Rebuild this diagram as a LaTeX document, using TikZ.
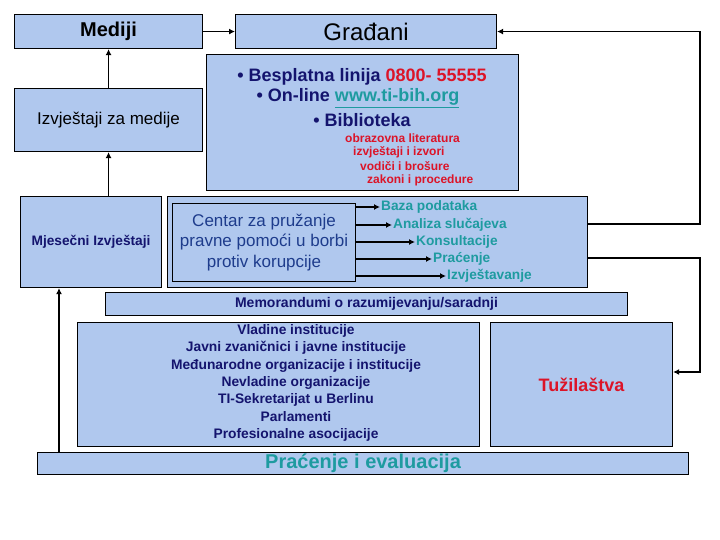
\documentclass[tikz,border=0pt]{standalone}
\usepackage{fontspec}
\setmainfont{Liberation Sans}
\usetikzlibrary{arrows.meta,calc}
\definecolor{boxblue}{RGB}{176,200,238}
\definecolor{navy}{RGB}{20,20,110}
\definecolor{tred}{RGB}{220,20,40}
\definecolor{teal2}{RGB}{30,155,160}
\definecolor{cblue}{RGB}{30,60,140}
\begin{document}
\begin{tikzpicture}[x=1pt,y=-1pt,
  box/.style={draw=black, line width=1.1pt, fill=boxblue, inner sep=0pt, anchor=north west, align=center},
  lbl/.style={inner sep=0pt, align=center},
  arr/.style={line width=1.3pt, -{Latex[length=6pt,width=6pt]}},
  fsb/.style={font=\fontsize{#1}{#1}\selectfont\bfseries}]
\useasboundingbox[fill=white] (0,0) rectangle (720,540);

% boxes
\node[box, minimum width=188pt, minimum height=34pt, font=\fontsize{20}{22}\selectfont\bfseries] (med) at (14,14) {Mediji};
\node[box, minimum width=261pt, minimum height=34pt, font=\fontsize{24}{26}\selectfont] (gra) at (235,14) {Građani};
\node[box, minimum width=188pt, minimum height=63pt, font=\fontsize{17}{19}\selectfont] (izv) at (14,88) {Izvještaji za medije};
\node[box, minimum width=312pt, minimum height=136pt] (info) at (206,54) {};
\node[box, minimum width=141pt, minimum height=91pt, text=navy, font=\fontsize{13.7}{15}\selectfont\bfseries] (mjes) at (20,196) {Mjesečni Izvještaji};
\node[box, minimum width=420pt, minimum height=91pt] (outer) at (167,196) {};
\node[box, minimum width=183pt, minimum height=78pt, text=cblue, font=\fontsize{17}{20.5}\selectfont] (cen) at (172,203) {Centar za pružanje\\pravne pomoći u borbi\\protiv korupcije};
\node[box, minimum width=522pt, minimum height=23pt, text=navy, font=\fontsize{14}{15}\selectfont\bfseries] (memo) at (105,292) {Memorandumi o razumijevanju/saradnji};
\node[box, minimum width=402pt, minimum height=124pt] (inst) at (77,322) {};
\node[box, minimum width=182pt, minimum height=124pt, text=tred, font=\fontsize{18}{20}\selectfont\bfseries] (tuz) at (490,322) {Tužilaštva};
\node[box, minimum width=651pt, minimum height=22pt, text=teal2, font=\fontsize{20}{22}\selectfont\bfseries] (prac) at (37,452) {Praćenje i evaluacija};

% info texts
\node[lbl, text=navy, fsb=18] (i1) at (362,77) {• Besplatna linija \textcolor{tred}{0800- 55555}};
\node[lbl, text=navy, fsb=18] (i2) at (358,98) {• On-line \textcolor{teal2}{\underline{www.ti-bih.org}}};
\node[lbl, text=navy, fsb=18] (i3) at (362,120) {• Biblioteka};
\node[lbl, anchor=west, text=tred, fsb=12] (b1) at (345,138) {obrazovna literatura};
\node[lbl, anchor=west, text=tred, fsb=12] (b2) at (353,152) {izvještaji i izvori};
\node[lbl, anchor=west, text=tred, fsb=12] (b3) at (360,166) {vodiči i brošure};
\node[lbl, anchor=west, text=tred, fsb=12] (b4) at (367,180) {zakoni i procedure};

% centre outputs
\node[lbl, anchor=west, text=teal2, fsb=13.7] (t1) at (381,207) {Baza podataka};
\node[lbl, anchor=west, text=teal2, fsb=13.7] (t2) at (393,225) {Analiza slučajeva};
\node[lbl, anchor=west, text=teal2, fsb=13.7] (t3) at (416,242) {Konsultacije};
\node[lbl, anchor=west, text=teal2, fsb=13.7] (t4) at (433,259) {Praćenje};
\node[lbl, anchor=west, text=teal2, fsb=13.7] (t5) at (447,276) {Izvještavanje};
\foreach \t in {t1,t2,t3,t4,t5}
  \draw[arr] (\t.west -| cen.east) -- ([xshift=-1pt]\t.west);

% institutions
\node[lbl, text=navy, font=\fontsize{13.8}{17.4}\selectfont\bfseries] (instt) at (296,383) {Vladine institucije\\Javni zvaničnici i javne institucije\\Međunarodne organizacije i institucije\\Nevladine organizacije\\TI-Sekretarijat u Berlinu\\Parlamenti\\Profesionalne asocijacije};

% connectors
\draw[arr] (med.east) -- (gra.west);
\draw[arr] (izv.north) -- (med.south);
\draw[arr] (mjes.north -| izv.south) -- (izv.south);
\coordinate (lx) at (59,452);
\draw[arr] (lx |- prac.north) -- (lx |- mjes.south);
\coordinate (r1) at (700,224);
\draw[arr] (outer.east |- r1) -- (r1) |- (gra.east);
\coordinate (r2) at (700,258);
\coordinate (r3) at (700,372);
\draw[arr] (outer.east |- r2) -- (r2) -- (r3) -- (r3 -| tuz.east);
\end{tikzpicture}
\end{document}
